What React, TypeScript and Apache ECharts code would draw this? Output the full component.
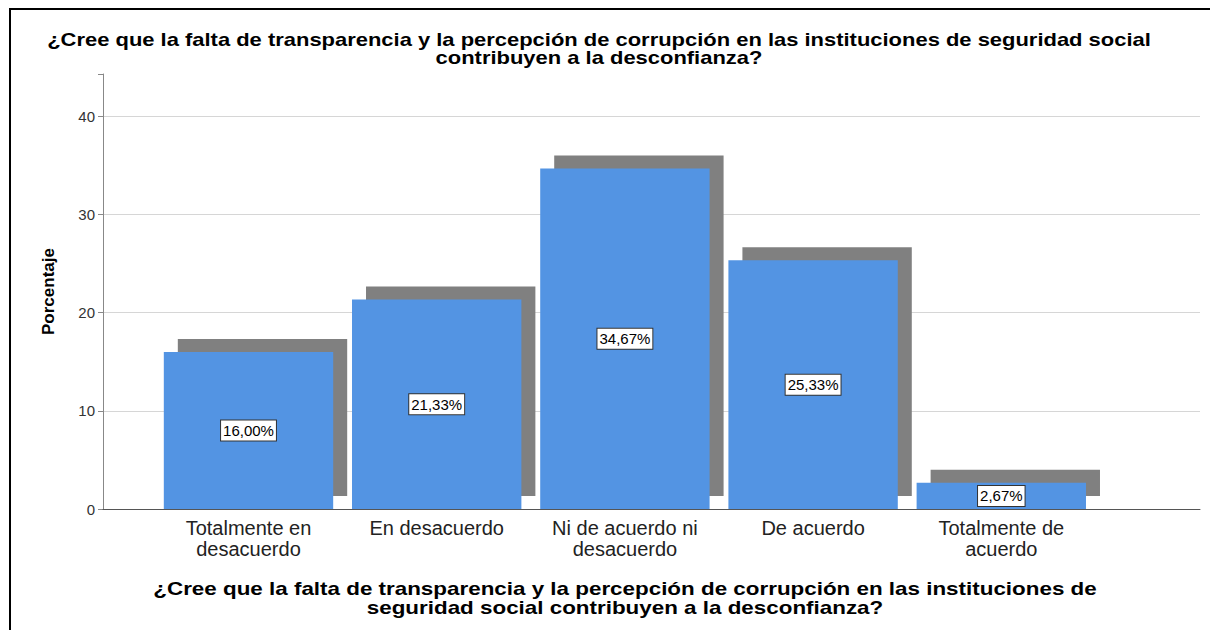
import React, { useEffect, useRef } from "react";
import * as echarts from "echarts";

const categories = [
  "Totalmente en\ndesacuerdo",
  "En desacuerdo",
  "Ni de acuerdo ni\ndesacuerdo",
  "De acuerdo",
  "Totalmente de\nacuerdo",
];
const percentages = [16.0, 21.33, 34.67, 25.33, 2.67];
const yMax = 44.3;
const yInterval = 10;
const titleText =
  "¿Cree que la falta de transparencia y la percepción de corrupción en las instituciones de seguridad social\ncontribuyen a la desconfianza?";
const xAxisTitle =
  "¿Cree que la falta de transparencia y la percepción de corrupción en las instituciones de\nseguridad social contribuyen a la desconfianza?";
const yAxisTitle = "Porcentaje";

const FONT = "'Liberation Sans', Arial, sans-serif";

export default function App() {
  const ref = useRef<HTMLDivElement>(null);
  useEffect(() => {
    if (!ref.current) return;
    const chart = echarts.init(ref.current, undefined, { renderer: "svg" });
    const grid0 = { left: 103, top: 74, right: 10, bottom: 121 };
    const grid1 = { left: 154.4, top: 74, right: 114.6, bottom: 121 };
    const grid2 = { left: 168.4, top: 61, right: 100.6, bottom: 134 };
    chart.setOption({
      animation: false,
      backgroundColor: "#ffffff",
      graphic: [
        {
          type: "polyline",
          shape: { points: [[10, 630], [10, 9], [1210, 9]] },
          style: { stroke: "#000", lineWidth: 2, fill: null },
          z: 100,
        },
        {
          type: "text",
          x: 599,
          y: 30,
          scaleX: 1.22,
          z: 100,
          style: {
            text: titleText,
            font: `bold 18px ${FONT}`,
            lineHeight: 18.5,
            textAlign: "center",
            textVerticalAlign: "top",
            fill: "#000",
          },
        },
        {
          type: "text",
          x: 625,
          y: 580,
          scaleX: 1.245,
          z: 100,
          style: {
            text: xAxisTitle,
            font: `bold 18px ${FONT}`,
            lineHeight: 18.5,
            textAlign: "center",
            textVerticalAlign: "top",
            fill: "#000",
          },
        },
      ],
      grid: [
        { ...grid0, containLabel: false },
        { ...grid1, containLabel: false },
        { ...grid2, containLabel: false },
      ],
      xAxis: [
        {
          type: "value",
          gridIndex: 0,
          min: 0,
          max: 1,
          z: 5,
          axisLine: { show: true, lineStyle: { color: "#555", width: 1 } },
          axisTick: { show: false },
          axisLabel: { show: false },
          splitLine: { show: false },
        },
        {
          type: "category",
          gridIndex: 1,
          data: categories,
          axisLine: { show: false },
          axisTick: { show: false },
          axisLabel: {
            interval: 0,
            fontFamily: FONT,
            fontSize: 20,
            lineHeight: 20.5,
            color: "#222",
            margin: 9,
          },
        },
        {
          type: "category",
          gridIndex: 2,
          data: categories,
          show: false,
        },
      ],
      yAxis: [
        {
          type: "value",
          gridIndex: 0,
          min: 0,
          max: yMax,
          interval: yInterval,
          axisLine: { show: true, lineStyle: { color: "#888", width: 1 } },
          axisTick: { show: true, length: 5, lineStyle: { color: "#888" } },
          axisLabel: {
            fontFamily: FONT,
            fontSize: 15,
            color: "#333",
            margin: 8,
            formatter: (v: number) => (v % yInterval === 0 ? String(v) : ""),
          },
          splitLine: {
            show: true,
            lineStyle: {
              color: ["#d6d6d6", "#d6d6d6", "#d6d6d6", "#d6d6d6", "#d6d6d6", "rgba(0,0,0,0)"],
              width: 1,
            },
          },
          name: yAxisTitle,
          nameLocation: "middle",
          nameGap: 46,
          nameRotate: 90,
          nameTextStyle: {
            fontFamily: FONT,
            fontSize: 17,
            fontWeight: "bold",
            color: "#000",
          },
        },
        { type: "value", gridIndex: 1, min: 0, max: yMax, show: false },
        { type: "value", gridIndex: 2, min: 0, max: yMax, show: false },
      ],
      series: [
        {
          type: "bar",
          name: "sombra",
          xAxisIndex: 2,
          yAxisIndex: 2,
          data: percentages,
          barWidth: "90%",
          itemStyle: { color: "#808080" },
          z: 1,
          silent: true,
        },
        {
          type: "bar",
          name: "Porcentaje",
          xAxisIndex: 1,
          yAxisIndex: 1,
          data: percentages,
          barWidth: "90%",
          itemStyle: { color: "#5394e3" },
          z: 3,
          label: {
            show: true,
            position: "inside",
            formatter: (p: any) => p.value.toFixed(2).replace(".", ",") + "%",
            fontFamily: FONT,
            fontSize: 15,
            color: "#000",
            backgroundColor: "#fff",
            borderColor: "#333",
            borderWidth: 1,
            padding: [3, 2, 2, 2],
          },
        },
      ],
    });
    return () => chart.dispose();
  }, []);
  return (
    <div
      ref={ref}
      style={{ position: "fixed", left: 0, top: 0, width: 1210, height: 630 }}
    />
  );
}
